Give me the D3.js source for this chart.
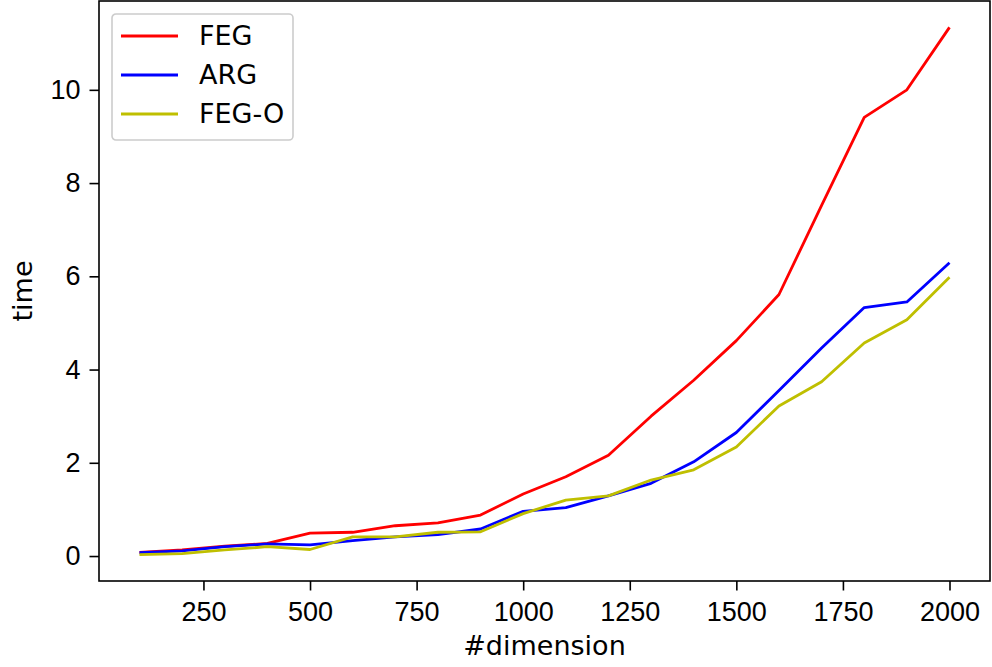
<!DOCTYPE html>
<html>
<head>
<meta charset="utf-8">
<script src="https://cdn.jsdelivr.net/npm/d3@7"></script>
<style>
  body { margin: 0; background: #fff; }
  svg { font-family: "DejaVu Sans", sans-serif; }
</style>
</head>
<body>
<svg id="line-chart"></svg>
<script>
// values
const dims = [100, 200, 300, 400, 500, 600, 700, 800, 900, 1000,
              1100, 1200, 1300, 1400, 1500, 1600, 1700, 1800, 1900, 2000];
const feg  = [0.08, 0.13, 0.21, 0.27, 0.49, 0.51, 0.65, 0.71, 0.88, 1.33,
              1.70, 2.16, 3.00, 3.77, 4.62, 5.61, 7.52, 9.41, 10.0, 11.34];
const arg  = [0.07, 0.11, 0.20, 0.26, 0.24, 0.33, 0.41, 0.46, 0.58, 0.96,
              1.04, 1.29, 1.56, 2.02, 2.65, 3.55, 4.46, 5.33, 5.45, 6.29];
const fegO = [0.03, 0.05, 0.13, 0.20, 0.14, 0.41, 0.41, 0.51, 0.52, 0.91,
              1.20, 1.29, 1.63, 1.85, 2.34, 3.22, 3.74, 4.57, 5.07, 5.98];
const seriesNames = ['FEG', 'ARG', 'FEG-O'];
const seriesColors = ['#ff0000', '#0000ff', '#bfbf00'];
const xTicks = [250, 500, 750, 1000, 1250, 1500, 1750, 2000];
const yTicks = [0, 2, 4, 6, 8, 10];

const series = [feg, arg, fegO].map((vals, i) => ({
    name: seriesNames[i],
    color: seriesColors[i],
    points: dims.map((d, j) => ({x: d, y: vals[j]}))
}));

const width = 992, height = 667;
const margin = {top: 1, right: 2, bottom: 86, left: 99};
const w = width - margin.left - margin.right;
const h = height - margin.top - margin.bottom;
const fontSize = '27px';

let svg = d3.select('#line-chart')
    .attr('width', width)
    .attr('height', height)
  .append('g')
    .attr('transform', 'translate(' + margin.left + ',' + margin.top + ')');

// matplotlib style 5% padding
let xMin = d3.min(dims), xMax = d3.max(dims);
let xPad = (xMax - xMin) * 0.05;
let x = d3.scaleLinear().domain([xMin - xPad, xMax + xPad]).range([0, w]);

let allY = [].concat(feg, arg, fegO);
let yMin = d3.min(allY), yMax = d3.max(allY);
let yPad = (yMax - yMin) * 0.05;
let y = d3.scaleLinear().domain([yMin - yPad, yMax + yPad]).range([h, 0]);

let line = d3.line().x(d => x(d.x)).y(d => y(d.y));

svg.selectAll('.series')
    .data(series)
  .enter().append('path')
    .attr('fill', 'none')
    .attr('stroke', d => d.color)
    .attr('stroke-width', 2.8)
    .attr('stroke-linejoin', 'round')
    .attr('d', d => line(d.points));

// axes
let xAxis = svg.append('g')
    .attr('transform', 'translate(0,' + h + ')')
    .call(d3.axisBottom(x).tickValues(xTicks).tickFormat(d3.format('d'))
        .tickSize(9.5).tickPadding(11).tickSizeOuter(0));
let yAxis = svg.append('g')
    .call(d3.axisLeft(y).tickValues(yTicks).tickFormat(d3.format('d'))
        .tickSize(9.5).tickPadding(9).tickSizeOuter(0));

[xAxis, yAxis].forEach(a => {
    a.selectAll('.domain').remove();
    a.selectAll('line').attr('stroke', '#000').attr('stroke-width', 1.6);
    a.selectAll('text').attr('fill', '#000').style('font-size', fontSize);
});

// frame
svg.append('rect')
    .attr('width', w).attr('height', h)
    .attr('fill', 'none')
    .attr('stroke', '#000')
    .attr('stroke-width', 1.6);

// axis labels
svg.append('text')
    .attr('x', w / 2).attr('y', h + 74)
    .attr('text-anchor', 'middle')
    .style('font-size', fontSize)
    .text('#dimension');

svg.append('text')
    .attr('transform', 'translate(' + (-67) + ',' + (h / 2) + ') rotate(-90)')
    .attr('text-anchor', 'middle')
    .style('font-size', fontSize)
    .text('time');

// legend
let legend = svg.append('g').attr('transform', 'translate(13,13)');
legend.append('rect')
    .attr('width', 181).attr('height', 126)
    .attr('rx', 4)
    .attr('fill', '#fff')
    .attr('fill-opacity', 0.8)
    .attr('stroke', '#cccccc')
    .attr('stroke-width', 1.6);

let items = legend.selectAll('.item')
    .data(series)
  .enter().append('g')
    .attr('transform', (d, i) => 'translate(0,' + (22 + i * 39) + ')');
items.append('line')
    .attr('x1', 9).attr('x2', 66)
    .attr('stroke', d => d.color)
    .attr('stroke-width', 2.8);
items.append('text')
    .attr('x', 87).attr('dy', '0.35em')
    .style('font-size', fontSize)
    .text(d => d.name);
</script>
</body>
</html>
